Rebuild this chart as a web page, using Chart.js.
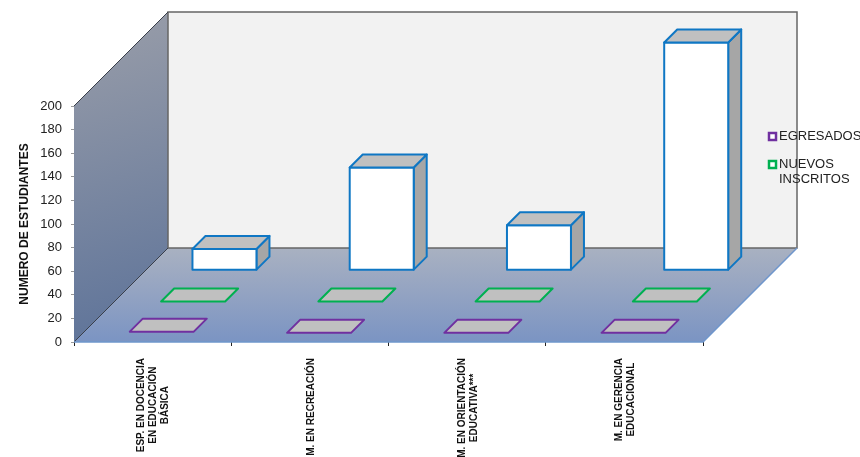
<!DOCTYPE html>
<html>
<head>
<meta charset="utf-8">
<title>Estudiantes por programa</title>
<script src="https://cdn.jsdelivr.net/npm/chart.js@4/dist/chart.umd.js"></script>
<style>
    body { margin: 0; background: #fff; }
    canvas { display: block; }
</style>
</head>
<body>
<canvas id="chart" width="860" height="457"></canvas>
<script>
const categories = [
    ['ESP. EN DOCENCIA', 'EN EDUCACIÓN', 'BÁSICA'],
    ['M. EN RECREACIÓN'],
    ['M. EN ORIENTACIÓN', 'EDUCATIVA***'],
    ['M. EN GERENCIA', 'EDUCACIONAL'],
];
const egresados = [1, 0, 0, 0];
const nuevosInscritos = [0, 0, 0, 0];
const terceraSerie = [18, 87, 38, 193];
const yTicksMax = 200;
const yTicksStep = 20;

const FONT = "'Liberation Sans', Arial, sans-serif";
const DEPTH = 94;        // depth of the whole floor, in px
const ROW_DEPTH = 13;    // depth of one box
const PURPLE = '#7030a0';
const GREEN = '#00b050';
const BLUE = '#0f77c4';

const polygon = (ctx, points) => {
    ctx.beginPath();
    points.forEach(([x, y], i) => (i ? ctx.lineTo(x, y) : ctx.moveTo(x, y)));
    ctx.closePath();
};

// bar controller that draws each bar as a box, pushed back along the depth axis
class Bar3dController extends Chart.BarController {
    draw() {
        const ctx = this.chart.ctx;
        const ds = this.getDataset();
        const rowSize = DEPTH / 3;
        const shift = ds.row * rowSize + (rowSize - ROW_DEPTH) / 2;
        const d = ROW_DEPTH;

        ctx.save();
        ctx.lineWidth = 2;
        ctx.lineJoin = 'round';
        ctx.strokeStyle = ds.borderColor;
        this.getMeta().data.forEach((bar) => {
            const l = bar.x - bar.width / 2 + shift;
            const r = bar.x + bar.width / 2 + shift;
            const t = bar.y - shift;
            const b = bar.base - shift;

            if (b - t > 2) {
                ctx.fillStyle = '#a6a6a6';
                polygon(ctx, [[r, t], [r + d, t - d], [r + d, b - d], [r, b]]);
                ctx.fill();
                ctx.stroke();
                ctx.fillStyle = ds.backgroundColor;
                polygon(ctx, [[l, t], [r, t], [r, b], [l, b]]);
                ctx.fill();
                ctx.stroke();
            }
            ctx.fillStyle = '#c0c0c0';
            polygon(ctx, [[l, t], [l + d, t - d], [r + d, t - d], [r, t]]);
            ctx.fill();
            ctx.stroke();
        });
        ctx.restore();
    }
}
Bar3dController.id = 'bar3d';
Bar3dController.defaults = Chart.BarController.defaults;
Bar3dController.overrides = Chart.BarController.overrides;
Chart.register(Bar3dController);

const wallsPlugin = {
    id: 'walls',
    beforeDatasetsDraw(chart) {
        const { ctx, chartArea: a } = chart;
        const { left, right, top, bottom } = a;
        const d = DEPTH;

        ctx.save();
        const wallGrad = ctx.createLinearGradient(left, top - d, left + d, bottom);
        wallGrad.addColorStop(0, '#9a9ea9');
        wallGrad.addColorStop(1, '#5c7299');
        ctx.fillStyle = wallGrad;
        polygon(ctx, [[left, top], [left + d, top - d], [left + d, bottom - d], [left, bottom]]);
        ctx.fill();

        const floorGrad = ctx.createLinearGradient(0, bottom - d, 0, bottom);
        floorGrad.addColorStop(0, '#a9b1c1');
        floorGrad.addColorStop(1, '#7b94c3');
        ctx.fillStyle = floorGrad;
        polygon(ctx, [[left, bottom], [left + d, bottom - d], [right + d, bottom - d], [right, bottom]]);
        ctx.fill();

        ctx.fillStyle = '#f2f2f2';
        ctx.fillRect(left + d, top - d, right - left, bottom - top);

        ctx.strokeStyle = '#666';
        ctx.lineWidth = 1.5;
        ctx.strokeRect(left + d, top - d, right - left, bottom - top);

        ctx.strokeStyle = '#3a3f4a';
        ctx.lineWidth = 1;
        ctx.beginPath();
        ctx.moveTo(left, top);
        ctx.lineTo(left + d, top - d);
        ctx.moveTo(left, bottom);
        ctx.lineTo(left + d, bottom - d);
        ctx.stroke();

        ctx.strokeStyle = '#6f96cc';
        ctx.lineWidth = 1.5;
        ctx.beginPath();
        ctx.moveTo(left, bottom);
        ctx.lineTo(right, bottom);
        ctx.lineTo(right + d, bottom - d);
        ctx.stroke();
        ctx.restore();
    },
};

// multi-line rotated labels stay centred on each other, which ticks can't do
const categoryLabelsPlugin = {
    id: 'categoryLabels',
    afterDraw(chart) {
        const { ctx, scales } = chart;
        const xScale = scales.x;
        const labelTop = xScale.bottom - 115 + 16;
        const lineHeight = 12;

        ctx.save();
        ctx.font = `bold 10px ${FONT}`;
        ctx.fillStyle = '#111';
        ctx.textAlign = 'center';
        ctx.textBaseline = 'middle';
        categories.forEach((lines, i) => {
            const widest = Math.max(...lines.map((line) => ctx.measureText(line).width));
            const cx = xScale.getPixelForValue(i) + 1;
            const cy = labelTop + widest / 2;
            lines.forEach((line, j) => {
                ctx.save();
                ctx.translate(cx + (j - (lines.length - 1) / 2) * lineHeight, cy);
                ctx.rotate(-Math.PI / 2);
                ctx.fillText(line, 0, 0);
                ctx.restore();
            });
        });
        ctx.restore();
    },
};

const legendPlugin = {
    id: 'sideLegend',
    afterDraw(chart) {
        const { ctx } = chart;
        const entries = [
            { color: PURPLE, lines: ['EGRESADOS'], y: 136 },
            { color: GREEN, lines: ['NUEVOS', 'INSCRITOS'], y: 164 },
        ];
        ctx.save();
        ctx.font = `13px ${FONT}`;
        ctx.textBaseline = 'middle';
        entries.forEach(({ color, lines, y }) => {
            ctx.fillStyle = '#fff';
            ctx.strokeStyle = color;
            ctx.lineWidth = 2.5;
            ctx.fillRect(769, y - 3, 7, 7);
            ctx.strokeRect(769, y - 3, 7, 7);
            ctx.fillStyle = '#222';
            lines.forEach((line, j) => ctx.fillText(line, 779, y + j * 15));
        });
        ctx.restore();
    },
};

new Chart(document.getElementById('chart'), {
    type: 'bar3d',
    data: {
        labels: categories,
        datasets: [
            { label: 'EGRESADOS', data: egresados, row: 0, backgroundColor: '#c0c0c0', borderColor: PURPLE },
            { label: 'NUEVOS INSCRITOS', data: nuevosInscritos, row: 1, backgroundColor: '#c0c0c0', borderColor: GREEN },
            { label: '', data: terceraSerie, row: 2, backgroundColor: '#ffffff', borderColor: BLUE },
        ],
    },
    options: {
        responsive: false,
        animation: false,
        layout: { padding: { top: 106, right: 157, left: 0, bottom: 0 } },
        datasets: { bar3d: { grouped: false, categoryPercentage: 0.407, barPercentage: 1, clip: false } },
        plugins: {
            legend: { display: false },
            tooltip: { enabled: false },
        },
        scales: {
            x: {
                type: 'category',
                offset: true,
                afterFit: (scale) => { scale.height = 115; },
                grid: { offset: true, drawOnChartArea: false, drawTicks: true, tickLength: 4, color: '#222' },
                border: { display: false },
                ticks: { display: false },
            },
            y: {
                type: 'linear',
                min: 0,
                max: yTicksMax,
                afterFit: (scale) => { scale.width = 74; },
                grid: { drawOnChartArea: false, drawTicks: true, tickLength: 3, color: '#999' },
                border: { display: true, color: '#333' },
                ticks: {
                    stepSize: yTicksStep,
                    padding: 9,
                    color: '#222',
                    font: { family: FONT, size: 13 },
                },
                title: {
                    display: true,
                    text: 'NUMERO DE ESTUDIANTES',
                    color: '#111',
                    font: { family: FONT, size: 12, weight: 'bold' },
                    padding: { top: 17, bottom: 0 },
                },
            },
        },
    },
    plugins: [wallsPlugin, categoryLabelsPlugin, legendPlugin],
});
</script>
</body>
</html>
